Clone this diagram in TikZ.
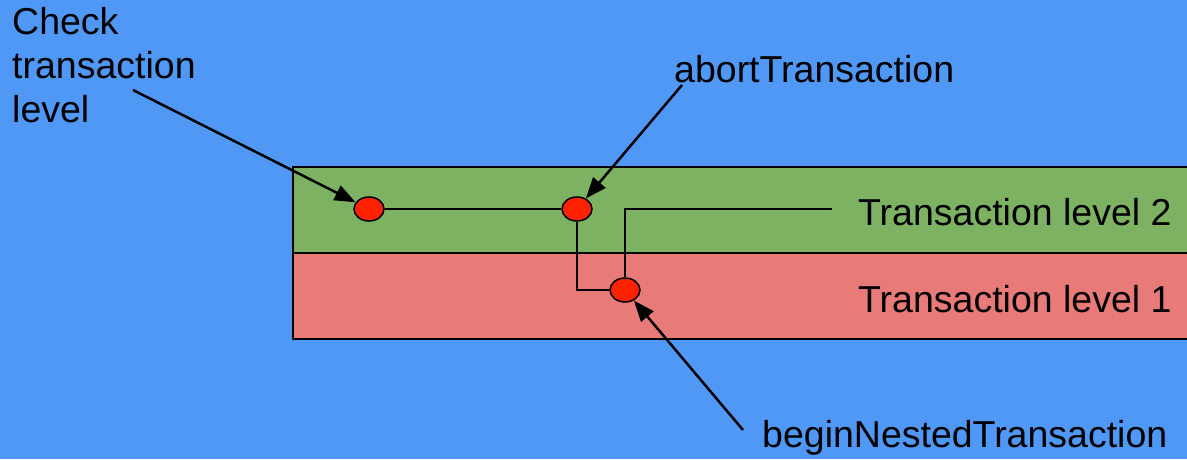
\documentclass[tikz,border=0pt]{standalone}
\usepackage{fontspec}
\setmainfont{Liberation Sans}
\usetikzlibrary{shapes.geometric,arrows.meta}
\definecolor{bgblue}{RGB}{80,152,245}
\definecolor{lvltwo}{RGB}{124,178,98}
\definecolor{lvlone}{RGB}{232,123,120}
\definecolor{dotred}{RGB}{255,34,0}
\pgfdeclarelayer{top}
\pgfsetlayers{main,top}
\tikzset{
  lbl/.style={inner sep=0pt, font=\fontsize{37.5}{44}\selectfont, text=black},
  band/.style={draw=black, line width=2pt},
  dot/.style={ellipse, draw=black, line width=1.5pt, fill=dotred, minimum width=30pt, minimum height=24pt, inner sep=0pt},
  conn/.style={draw=black, line width=2pt},
  pointer/.style={draw=black, line width=2.5pt, -{Triangle[length=21pt,width=16pt]}}
}
\begin{document}
\begin{tikzpicture}[x=1pt,y=-1pt]
\useasboundingbox (0,0) rectangle (1187,459);
\clip (0,0) rectangle (1187,459);
\fill[bgblue] (0,0) rectangle (1187,459);
% bands
\path[band, fill=lvltwo] (293,167) rectangle (1200,253);
\path[band, fill=lvlone] (293,253) rectangle (1200,339);
% labels
\node[lbl, anchor=base west] (lvl2) at (858,225) {Transaction level 2};
\node[lbl, anchor=base west] (lvl1) at (858,312) {Transaction level 1};
\node[lbl, anchor=base west] (abort) at (674,82) {abortTransaction};
\node[lbl, anchor=base west] (begin) at (762,447) {beginNestedTransaction};
\node[lbl, anchor=north west, align=left] (check) at (12,7) {Check\\transaction\\level};
% dots on top layer
\begin{pgfonlayer}{top}
\node[dot] (e1) at (369,209) {};
\node[dot] (e2) at (577,209) {};
\node[dot] (e3) at (625,290) {};
\end{pgfonlayer}
% connectors
\coordinate (lvl2end) at (832,209);
\draw[conn] (e1.east) -- (e2.west);
\draw[conn] (e2.south) |- (e3.west);
\draw[conn] (e3.north) |- (lvl2end);
% pointers
\coordinate (t1) at (133,90);
\coordinate (t2) at (682,85);
\coordinate (t3) at (743,430);
\draw[pointer] (t1) -- (e1);
\draw[pointer] (t2) -- (e2);
\draw[pointer] (t3) -- (e3);
\end{tikzpicture}
\end{document}
